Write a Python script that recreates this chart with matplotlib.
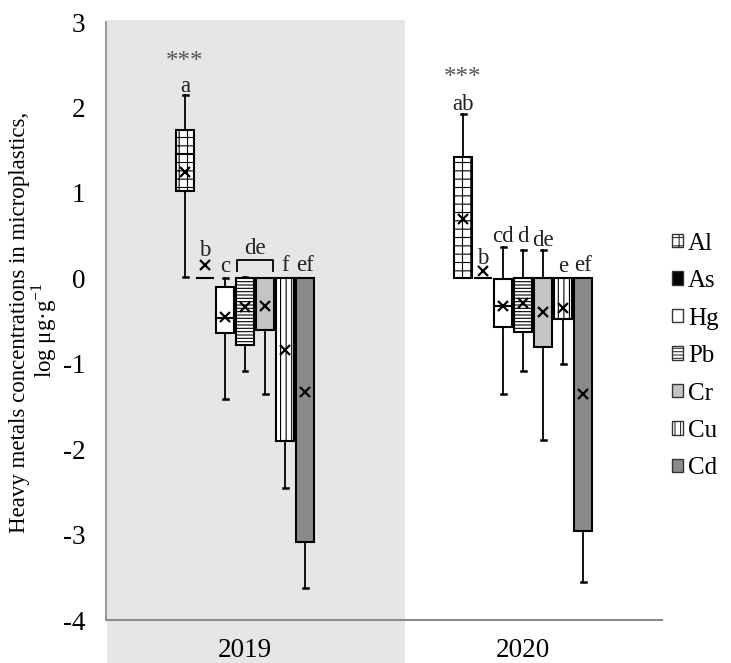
import matplotlib
matplotlib.use("Agg")
import matplotlib.pyplot as plt
from matplotlib.patches import Rectangle, Patch
import numpy as np

plt.rcParams['font.family'] = ['Liberation Serif', 'DejaVu Serif']
plt.rcParams['hatch.linewidth'] = 0.8
plt.rcParams['mathtext.fontset'] = 'custom'
plt.rcParams['mathtext.rm'] = 'Liberation Serif'

years = ["2019", "2020"]
metals = ["Al", "As", "Hg", "Pb", "Cr", "Cu", "Cd"]

q1_2019 = [1.02, 0.0, -0.64, -0.78, -0.60, -1.90, -3.09]
q3_2019 = [1.74, 0.0, -0.10, 0.0, 0.0, 0.0, 0.0]
med_2019 = [1.46, 0.0, -0.46, 0.0, 0.0, 0.0, 0.0]
mean_2019 = [1.25, 0.15, -0.45, -0.34, -0.32, -0.84, -1.33]
wlo_2019 = [0.02, 0.0, -1.41, -1.08, -1.35, -2.45, -3.63]
whi_2019 = [2.14, 0.0, 0.0, 0.02, 0.0, 0.0, 0.0]

q1_2020 = [0.0, 0.0, -0.57, -0.63, -0.80, -0.48, -2.96]
q3_2020 = [1.42, 0.0, -0.01, 0.0, 0.0, 0.0, 0.0]
med_2020 = [0.0, 0.0, -0.33, 0.0, 0.0, 0.0, 0.0]
mean_2020 = [0.69, 0.09, -0.33, -0.29, -0.40, -0.35, -1.36]
wlo_2020 = [0.0, 0.0, -1.36, -1.08, -1.89, -1.00, -3.55]
whi_2020 = [1.92, 0.0, 0.37, 0.33, 0.33, 0.0, 0.0]

letters_2019 = ["a", "b", "c", "", "", "f", "ef"]
letters_2020 = ["ab", "b", "cd", "d", "de", "e", "ef"]
letters_y_2019 = [2.24, 0.32, 0.14, 0, 0, 0.15, 0.15]
letters_y_2020 = [2.04, 0.23, 0.49, 0.49, 0.44, 0.14, 0.15]
stars_y = [2.53, 2.35]

fills = ["white", "black", "white", "white", "#c4c4c4", "white", "#8a8a8a"]
hatches = ["++", None, None, "-----", None, "|||", None]

fig = plt.figure(figsize=(7.31, 6.63), dpi=100)
W, H = 731, 663
ax_l, ax_r, ax_t, ax_b = 106, 662, 22, 620
ax = fig.add_axes([ax_l / W, 1 - ax_b / H, (ax_r - ax_l) / W, (ax_b - ax_t) / H])
ax.set_facecolor("none")

band = Rectangle((107 / W, 0), (405 - 107) / W, 1 - 20 / H, transform=fig.transFigure,
                 facecolor="#e6e6e6", edgecolor="none", zorder=-10)
fig.patches.append(band)

ax.set_xlim(0, 2)
ax.set_ylim(-4, 3)
centers = [0.5, 1.5]
step = 20 / (ax_r - ax_l) * 2
bw = 18.5 / (ax_r - ax_l) * 2
capw = 5 / (ax_r - ax_l) * 2

data = [
    (q1_2019, q3_2019, med_2019, mean_2019, wlo_2019, whi_2019),
    (q1_2020, q3_2020, med_2020, mean_2020, wlo_2020, whi_2020),
]

for g, (q1, q3, med, mean, wlo, whi) in enumerate(data):
    for i in range(len(metals)):
        x = centers[g] + (i - 3) * step
        if wlo[i] < q1[i]:
            ax.plot([x, x], [wlo[i], q1[i]], color="black", lw=1.3, zorder=2)
            ax.plot([x - capw / 2, x + capw / 2], [wlo[i], wlo[i]], color="black", lw=1.8, zorder=2)
        if whi[i] > q3[i]:
            ax.plot([x, x], [q3[i], whi[i]], color="black", lw=1.3, zorder=2)
            ax.plot([x - capw / 2, x + capw / 2], [whi[i], whi[i]], color="black", lw=1.8, zorder=2)
        rect = Rectangle((x - bw / 2, q1[i]), bw, q3[i] - q1[i], facecolor=fills[i],
                         edgecolor="black", lw=1.5, hatch=hatches[i], zorder=3)
        ax.add_patch(rect)
        if q1[i] < med[i] < q3[i]:
            ax.plot([x - bw / 2, x + bw / 2], [med[i], med[i]], color="black", lw=1.5, zorder=4)
        ax.plot(x, mean[i], marker="x", color="black", ms=6.5, mew=1.6, zorder=5)

for g, (labs, ys) in enumerate([(letters_2019, letters_y_2019), (letters_2020, letters_y_2020)]):
    for i, (lab, yv) in enumerate(zip(labs, ys)):
        if lab:
            x = centers[g] + (i - 3) * step
            ax.text(x, yv, lab, ha="center", va="center", fontsize=16.5, color="#222222", zorder=6)
    ax.text(centers[g] - 3 * step, stars_y[g], "***", ha="center", va="center",
            fontsize=18, color="#555555", zorder=6)

xa = centers[0] + 0 * step - bw / 2 + 0.003
xb = centers[0] + 1 * step + bw / 2 - 0.003
ax.plot([xa, xa, xb, xb], [0.09, 0.21, 0.21, 0.09], color="black", lw=1.3, zorder=6)
ax.text((xa + xb) / 2, 0.35, "de", ha="center", va="center", fontsize=16.5, color="#222222")

ax.set_yticks(range(-4, 4))
ax.set_yticklabels([str(v) for v in range(-4, 4)], fontsize=19.5)
ax.set_xticks(centers)
ax.set_xticklabels(years, fontsize=19.5)
ax.tick_params(axis="y", length=0, pad=15)
ax.tick_params(axis="x", length=0, pad=13)
for s in ["top", "right"]:
    ax.spines[s].set_visible(False)
ax.spines["left"].set_color("#8c8c8c")
ax.spines["bottom"].set_color("#8c8c8c")
ax.spines["left"].set_linewidth(1.3)
ax.spines["bottom"].set_linewidth(1.5)

fig.text(20 / W, 1 - 322 / H, "Heavy metals concentrations in microplastics,",
         rotation=90, ha="center", va="center", fontsize=16.5)
fig.text(44 / W, 1 - 330 / H, "log μg·g$^{\\mathregular{-1}}$",
         rotation=90, ha="center", va="center", fontsize=16.5)

handles = [Patch(facecolor=fills[i], edgecolor="#333333", hatch=hatches[i], lw=1.0, label=metals[i])
           for i in range(len(metals))]
fig.legend(handles=handles, loc="center left", bbox_to_anchor=(662 / W, 1 - 356 / H),
           frameon=False, fontsize=18, handlelength=0.45, handleheight=0.45,
           handletextpad=0.2, labelspacing=0.62, borderaxespad=0)

fig.savefig("out.png", dpi=100)
